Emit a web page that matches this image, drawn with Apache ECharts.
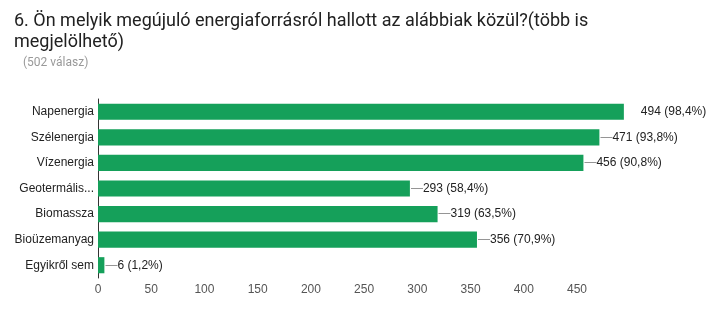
<!DOCTYPE html>
<html><head><meta charset="utf-8">
<script src="https://cdn.jsdelivr.net/npm/echarts@6/dist/echarts.min.js"></script>
<style>html,body{margin:0;padding:0;background:#fff}#c{width:706px;height:321px}</style>
</head><body><div id="c"></div>
<script>
const categories = ['Napenergia','Szélenergia','Vízenergia','Geotermális...','Biomassza','Bioüzemanyag','Egyikről sem'];
const values = [494, 471, 456, 293, 319, 356, 6];
const percents = ['98,4%','93,8%','90,8%','58,4%','63,5%','70,9%','1,2%'];
const xTicks = [0,50,100,150,200,250,300,350,400,450];

const chart = echarts.init(document.getElementById('c'));
const data = values.map((v,i)=>{
  const d = {value: v};
  if (i === 0) d.label = {distance: 17, formatter: v + ' (' + percents[i] + ')'};
  return d;
});
chart.setOption({
  animation: false,
  title: [{
    text: '6. Ön melyik megújuló energiaforrásról hallott az alábbiak közül?(több is\nmegjelölhető)',
    left: 9, top: 6,
    textStyle: {fontFamily: 'Roboto', fontSize: 18, fontWeight: 'normal', color: '#212121', lineHeight: 21}
  },{
    text: '(502 válasz)', left: 18, top: 52,
    textStyle: {fontFamily: 'Roboto', fontSize: 12, fontWeight: 'normal', color: '#999'}
  }],
  grid: {left: 98, top: 99, width: 528, height: 179, containLabel: false},
  xAxis: {
    type: 'value', min: 0, max: 496, interval: 50,
    axisLine: {show: false}, axisTick: {show: false}, splitLine: {show: false},
    axisLabel: {color: '#555', fontFamily: 'Arial', fontSize: 12, margin: 6, showMaxLabel: false,
      formatter: v => xTicks.includes(v) ? String(v) : ''}
  },
  yAxis: {
    type: 'category', data: categories, inverse: true,
    axisLine: {show: true, lineStyle: {color: '#333', width: 1}},
    axisTick: {show: false},
    axisLabel: {color: '#222', fontFamily: 'Arial', fontSize: 12, margin: 4}
  },
  series: [{
    type: 'bar', data: data, barCategoryGap: '37%',
    itemStyle: {color: '#15a05a'},
    label: {show: true, position: 'right', distance: 1, color: '#222', fontFamily: 'Arial', fontSize: 12,
      formatter: p => '{d|\u2014}' + p.value + ' (' + percents[p.dataIndex] + ')',
      rich: {d: {color: '#888', fontFamily: 'Arial', fontSize: 12}}}
  }]
});
</script></body></html>
